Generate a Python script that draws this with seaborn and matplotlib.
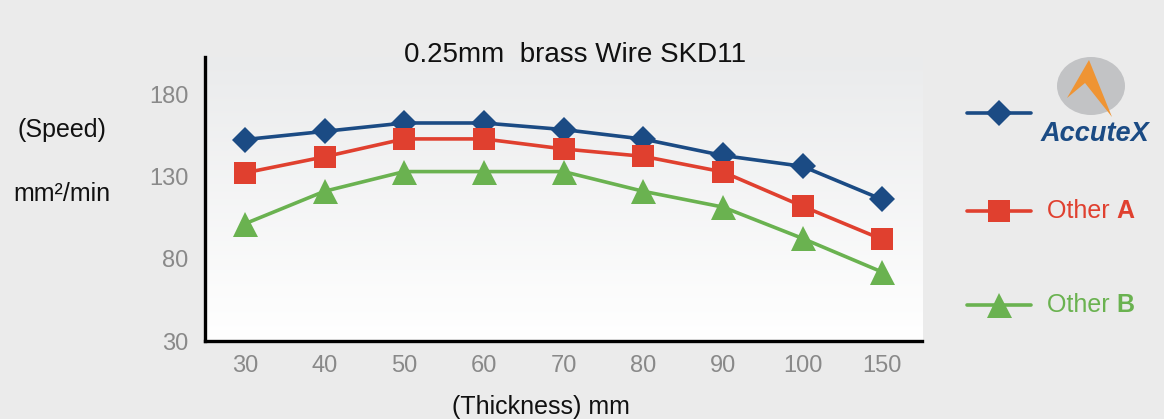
import matplotlib
matplotlib.use('Agg')
import matplotlib.pyplot as plt
import seaborn as sns
import numpy as np
import pandas as pd
from matplotlib.lines import Line2D
from matplotlib.patches import Ellipse, Polygon

# dados
thickness = ['30', '40', '50', '60', '70', '80', '90', '100', '150']
accutex = [152.7, 157.7, 162.8, 162.8, 158.8, 153.0, 143.0, 136.4, 116.2]
other_a = [132.4, 142.2, 153.1, 153.1, 147.0, 142.5, 133.0, 112.1, 91.9]
other_b = [101.4, 121.2, 133.2, 133.2, 133.2, 121.2, 111.6, 92.5, 72.0]
y_ticks = [30, 80, 130, 180]

series = ['AccuteX', 'Other A', 'Other B']
cores = {'AccuteX': '#1b4b84', 'Other A': '#e0402f', 'Other B': '#6ab250'}
marcadores = {'AccuteX': 'D', 'Other A': 's', 'Other B': '^'}
tamanhos = {'AccuteX': 13.5, 'Other A': 16.5, 'Other B': 18}

df = pd.DataFrame({
    'pos': list(range(len(thickness))) * 3,
    'speed': accutex + other_a + other_b,
    'serie': [s for s in series for _ in thickness],
})

sns.set_style('white')
plt.rcParams['font.family'] = ['Liberation Sans', 'DejaVu Sans']

W, H = 1164, 419
BG = '#ebebeb'
fig = plt.figure(figsize=(W / 100, H / 100), dpi=100, facecolor=BG)


def px(x, y):
    return x / W, 1 - y / H


# eixo principal
ax_l, ax_r, ax_t, ax_b = 205, 922, 57, 341
ax = fig.add_axes([ax_l / W, 1 - ax_b / H, (ax_r - ax_l) / W, (ax_b - ax_t) / H])
ax.set_facecolor(BG)

# fundo em degradê
grad = np.linspace(0, 1, 256).reshape(-1, 1)
cmap = matplotlib.colors.LinearSegmentedColormap.from_list('g', ['#ffffff', '#eaebec'])
ax.imshow(grad, extent=[0, 1, 0, 1], transform=ax.transAxes, cmap=cmap,
          aspect='auto', origin='lower', zorder=0)

for s in series:
    sns.lineplot(data=df[df['serie'] == s], x='pos', y='speed', ax=ax,
                 color=cores[s], marker=marcadores[s], markersize=tamanhos[s],
                 markeredgewidth=0, linewidth=2.6, zorder=3)

ax.set_xlim(-0.5, len(thickness) - 0.5)
ax.set_ylim(30, 203)
ax.set_xticks(range(len(thickness)))
ax.set_xticklabels(thickness)
ax.set_yticks(y_ticks)
ax.tick_params(axis='both', length=0, labelsize=17, labelcolor='#898989')
ax.tick_params(axis='y', pad=12)
ax.tick_params(axis='x', pad=10)
ax.set_xlabel('')
ax.set_ylabel('')
for lado in ['top', 'right']:
    ax.spines[lado].set_visible(False)
for lado in ['left', 'bottom']:
    ax.spines[lado].set_color('black')
    ax.spines[lado].set_linewidth(2.4)

# textos
fig.text(*px(575, 55), '0.25mm  brass Wire SKD11', ha='center', va='center',
         fontsize=20, color='#111111')
fig.text(*px(541, 407), '(Thickness) mm', ha='center', va='center',
         fontsize=18, color='#111111')
fig.text(*px(62, 130), '(Speed)', ha='center', va='center', fontsize=18, color='#111111')
fig.text(*px(62, 194), 'mm²/min', ha='center', va='center', fontsize=18, color='#111111')

# legenda manual
leg_y = {'AccuteX': 113, 'Other A': 211, 'Other B': 305}
for s in series:
    x0, y0 = px(967, leg_y[s])
    x1, _ = px(1031, leg_y[s])
    fig.add_artist(Line2D([x0, x1], [y0, y0], transform=fig.transFigure,
                          color=cores[s], linewidth=2.6))
    xm, _ = px(999, leg_y[s])
    fig.add_artist(Line2D([xm], [y0], transform=fig.transFigure, color=cores[s],
                          marker=marcadores[s], markersize=tamanhos[s],
                          markeredgewidth=0, linestyle='none'))

for s, letra in [('Other A', 'A'), ('Other B', 'B')]:
    t = fig.text(*px(1047, leg_y[s]), 'Other ', ha='left', va='center',
                 fontsize=18, color=cores[s])
    fig.canvas.draw()
    bb = t.get_window_extent()
    fig.text(bb.x1 / W, 1 - leg_y[s] / H, letra, ha='left', va='center',
             fontsize=18, fontweight='bold', color=cores[s])

# logo
fig.add_artist(Ellipse(px(1091, 86), 68 / W, 58 / H, transform=fig.transFigure,
                       facecolor='#c2c3c5', edgecolor='none'))
seta = [px(1089, 60), px(1067, 98), px(1085, 83), px(1112, 117)]
fig.add_artist(Polygon(seta, closed=True, transform=fig.transFigure,
                       facecolor='#ef9433', edgecolor='none'))
fig.text(*px(1095, 134), 'AccuteX', ha='center', va='center', fontsize=19.5,
         fontweight='bold', fontstyle='italic', color='#1b4b84')

fig.savefig('out.png', dpi=100, facecolor=BG)
